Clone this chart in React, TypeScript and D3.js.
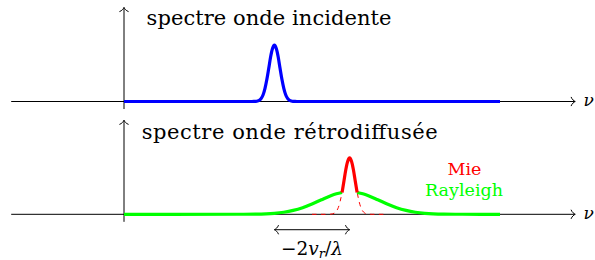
import React from "react";
import * as d3 from "d3";

const W = 595;
const H = 260;

// axis extents, in nu / amplitude units (y axis sits at nu = 0)
const nuAxis = [-3, 12];
const ampAxis = [-0.2, 2.5];
const panelOffset = [0, -3]; // top panel, bottom panel

// incident spectrum (blue)
const incidentNu = [0, 3.4, 3.45, 3.5, 3.55, 3.6, 3.65, 3.7, 3.75, 3.8, 3.85, 3.9, 3.95, 4, 4.05, 4.1, 4.15, 4.2, 4.25, 4.3, 4.35, 4.4, 4.45, 4.5, 4.55, 4.6, 10];
const incidentAmp = [0, 0, 0.001, 0.004, 0.013, 0.035, 0.085, 0.18, 0.35, 0.59, 0.885, 1.19, 1.41, 1.5, 1.41, 1.19, 0.885, 0.59, 0.35, 0.18, 0.085, 0.035, 0.013, 0.004, 0.001, 0, 0];

// Rayleigh (green), broad
const rayleighNu = [0, 3, 3.5, 4, 4.25, 4.5, 4.75, 5, 5.25, 5.5, 5.65, 5.8, 6, 6.2, 6.35, 6.5, 6.75, 7, 7.25, 7.5, 7.75, 8, 8.5, 9, 10];
const rayleighAmp = [0, 0.001, 0.005, 0.026, 0.055, 0.104, 0.177, 0.275, 0.387, 0.494, 0.545, 0.581, 0.6, 0.581, 0.545, 0.494, 0.387, 0.275, 0.177, 0.104, 0.055, 0.026, 0.005, 0.001, 0];
const rayleighGap = [5.8, 6.2];

// Mie (red), narrow: solid part above Rayleigh
const mieNu = [5.8, 5.85, 5.9, 5.95, 6, 6.05, 6.1, 6.15, 6.2];
const mieAmp = [0.58, 0.885, 1.19, 1.41, 1.5, 1.41, 1.19, 0.885, 0.58];
// Mie alone (dashed)
const mieFullNu = [5, 5.4, 5.45, 5.5, 5.55, 5.6, 5.65, 5.7, 5.75, 5.8, 5.85, 5.9, 5.95, 6, 6.05, 6.1, 6.15, 6.2, 6.25, 6.3, 6.35, 6.4, 6.45, 6.5, 6.55, 6.6, 7];
const mieFullAmp = [0, 0, 0.001, 0.004, 0.013, 0.035, 0.085, 0.18, 0.35, 0.59, 0.885, 1.19, 1.41, 1.5, 1.41, 1.19, 0.885, 0.59, 0.35, 0.18, 0.085, 0.035, 0.013, 0.004, 0.001, 0, 0];

const shift = [4, 6]; // doppler shift arrow, from incident peak to Mie peak

const zip = (xs: number[], ys: number[]): [number, number][] => xs.map((v, i) => [v, ys[i]]);

const serif = { fontFamily: "'DejaVu Serif', serif" };

const ArrowTip = ({ x, y, angle }: { x: number; y: number; angle: number }) => (
  <path
    d="M-4,-4.2 C-3.2,-2 -1.2,-0.6 0,0 C-1.2,0.6 -3.2,2 -4,4.2"
    transform={`translate(${x},${y}) rotate(${angle})`}
    fill="none"
    stroke="#000"
    strokeWidth={1}
    strokeLinecap="round"
  />
);

export default function App() {
  const x = d3.scaleLinear().domain([0, 10]).range([124, 500]);
  const y = d3.scaleLinear().domain([0, 1]).range([101.5, 63.9]);

  const line = (off: number) =>
    d3
      .line<[number, number]>()
      .x((d) => x(d[0]))
      .y((d) => y(d[1] + off))
      .curve(d3.curveMonotoneX);

  const top = panelOffset[0];
  const bot = panelOffset[1];
  const rayleigh = zip(rayleighNu, rayleighAmp);
  const rayLeft = rayleigh.filter((d) => d[0] <= rayleighGap[0]);
  const rayRight = rayleigh.filter((d) => d[0] >= rayleighGap[1]);

  const axes = panelOffset.map((off, i) => (
    <g key={i}>
      <line x1={x(nuAxis[0])} x2={x(nuAxis[1])} y1={y(off)} y2={y(off)} stroke="#000" strokeWidth={1} />
      <ArrowTip x={x(nuAxis[1])} y={y(off)} angle={0} />
      <line x1={x(0)} x2={x(0)} y1={y(ampAxis[0] + off)} y2={y(ampAxis[1] + off)} stroke="#000" strokeWidth={1} />
      <ArrowTip x={x(0)} y={y(ampAxis[1] + off)} angle={-90} />
      <text x={x(12.22)} y={y(off) + 4.5} style={serif} fontStyle="italic" fontSize={17}>
        ν
      </text>
    </g>
  ));

  const arrowY = y(bot - 0.41);

  return (
    <div style={{ position: "fixed", left: 0, top: 0 }}>
      <svg width={W} height={H} style={{ display: "block" }}>
        <rect width={W} height={H} fill="#fff" />
        {axes}

        <text x={x(0.6)} y={y(top + 2.03)} style={serif} fontSize={21} textLength={245} lengthAdjust="spacing">
          spectre onde incidente
        </text>
        <text x={x(0.47)} y={y(bot + 2.0)} style={serif} fontSize={21} textLength={296} lengthAdjust="spacing">
          spectre onde rétrodiffusée
        </text>

        <path d={line(top)(zip(incidentNu, incidentAmp)) ?? ""} fill="none" stroke="#0000ff" strokeWidth={3.2} strokeLinejoin="round" />

        <path d={line(bot)(zip(mieFullNu, mieFullAmp)) ?? ""} fill="none" stroke="#ff0000" strokeWidth={1} strokeDasharray="4.5,4.5" />
        <path d={line(bot)(rayLeft) ?? ""} fill="none" stroke="#00ff00" strokeWidth={3.2} strokeLinejoin="round" />
        <path d={line(bot)(rayRight) ?? ""} fill="none" stroke="#00ff00" strokeWidth={3.2} strokeLinejoin="round" />
        <path d={line(bot)(zip(mieNu, mieAmp)) ?? ""} fill="none" stroke="#ff0000" strokeWidth={3.2} strokeLinejoin="round" />

        <text x={464.5} y={y(bot + 1.05)} textAnchor="middle" style={serif} fontSize={17.5} fill="#ff0000">
          Mie
        </text>
        <text x={464} y={y(bot + 0.49)} textAnchor="middle" style={serif} fontSize={17.5} fill="#00ff00" textLength={78} lengthAdjust="spacing">
          Rayleigh
        </text>

        <line x1={x(shift[0])} x2={x(shift[1])} y1={arrowY} y2={arrowY} stroke="#000" strokeWidth={1} />
        <ArrowTip x={x(shift[0])} y={arrowY} angle={180} />
        <ArrowTip x={x(shift[1])} y={arrowY} angle={0} />
        <text x={(x(shift[0]) + x(shift[1])) / 2} y={arrowY + 25} textAnchor="middle" style={serif} fontSize={18.5}>
          −2<tspan fontStyle="italic">v</tspan>
          <tspan fontStyle="italic" fontSize={13} dy={3.5}>r</tspan>
          <tspan dy={-3.5}>/</tspan>
          <tspan fontStyle="italic">λ</tspan>
        </text>
      </svg>
    </div>
  );
}
